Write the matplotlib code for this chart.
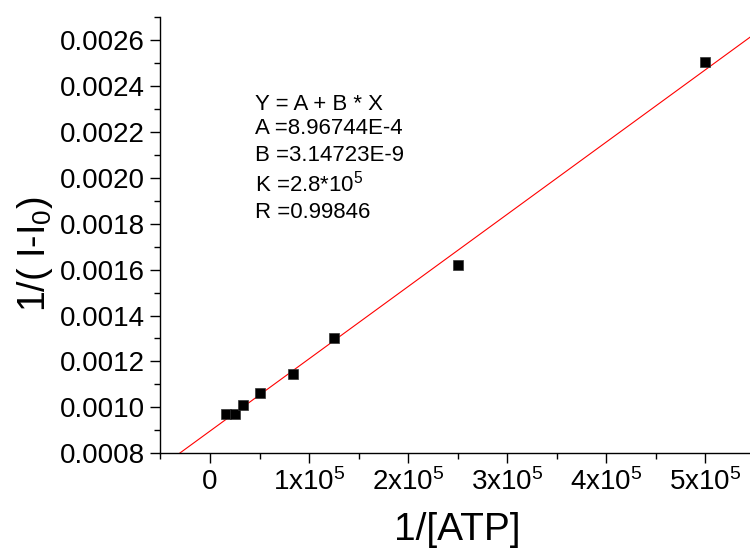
import numpy as np
import matplotlib
matplotlib.use("Agg")
import matplotlib.pyplot as plt
from matplotlib.ticker import MultipleLocator, FuncFormatter

plt.rcParams['font.family'] = ['Liberation Sans', 'DejaVu Sans']

#------------------------------------------------------data
inv_atp = [16667, 25000, 33333, 50000, 83333, 125000, 250000, 500000]
inv_dI = [0.000970, 0.000973, 0.001012, 0.001062, 0.001146, 0.001300, 0.001620, 0.002503]

fit_A = 8.96744e-4
fit_B = 3.14723e-9
fit_lines = ["Y = A + B * X", "A =8.96744E-4", "B =3.14723E-9",
             r"K =2.8*10$^\mathdefault{5}$", "R =0.99846"]

#------------------------------------------------------figure
fig = plt.figure(figsize=(7.5, 5.56), dpi=100)
ax = fig.add_axes([0.2139, 0.1847, 0.7861, 0.7847])

xfit = np.array([-0.6e5, 5.6e5])
ax.plot(xfit, fit_A + fit_B * xfit, color="red", lw=0.8, zorder=2)
ax.plot(inv_atp, inv_dI, ls="none", marker="s", ms=7, mfc="black",
        mec="#333333", mew=0.5, zorder=3)

ax.set_xlim(-0.5e5, 5.45e5)
ax.set_ylim(0.0008, 0.0027)

#ticks
ax.xaxis.set_major_locator(MultipleLocator(1e5))
ax.xaxis.set_minor_locator(MultipleLocator(0.5e5))
ax.yaxis.set_major_locator(MultipleLocator(0.0002))
ax.yaxis.set_minor_locator(MultipleLocator(0.0001))

def xfmt(v, pos):
    n = int(round(v / 1e5))
    if n == 0:
        return "0"
    return r"$\mathdefault{%dx10^{5}}$" % n

ax.xaxis.set_major_formatter(FuncFormatter(xfmt))
ax.yaxis.set_major_formatter(FuncFormatter(lambda v, p: "%.4f" % v))

ax.tick_params(which="both", direction="out", width=1.0, labelsize=20)
ax.tick_params(which="major", length=7)
ax.tick_params(which="minor", length=4)
ax.tick_params(axis="y", pad=4)
ax.tick_params(axis="x", pad=4)

for s in ["top", "right"]:
    ax.spines[s].set_visible(False)
for s in ["left", "bottom"]:
    ax.spines[s].set_linewidth(1.0)

#labels
ax.set_xlabel("1/[ATP]", fontsize=28)
ax.xaxis.set_label_coords(0.503, -0.135)
ax.set_ylabel(r"1/( I-I$_\mathdefault{0}$)", fontsize=27)
ax.yaxis.set_label_coords(-0.178, 0.456)

#fit info
ypos = [0.787, 0.731, 0.670, 0.601, 0.539]
for txt, yy in zip(fit_lines, ypos):
    ax.text(0.160, yy, txt, transform=ax.transAxes, fontsize=16,
            va="baseline", ha="left")

fig.savefig("out.png", dpi=100)
